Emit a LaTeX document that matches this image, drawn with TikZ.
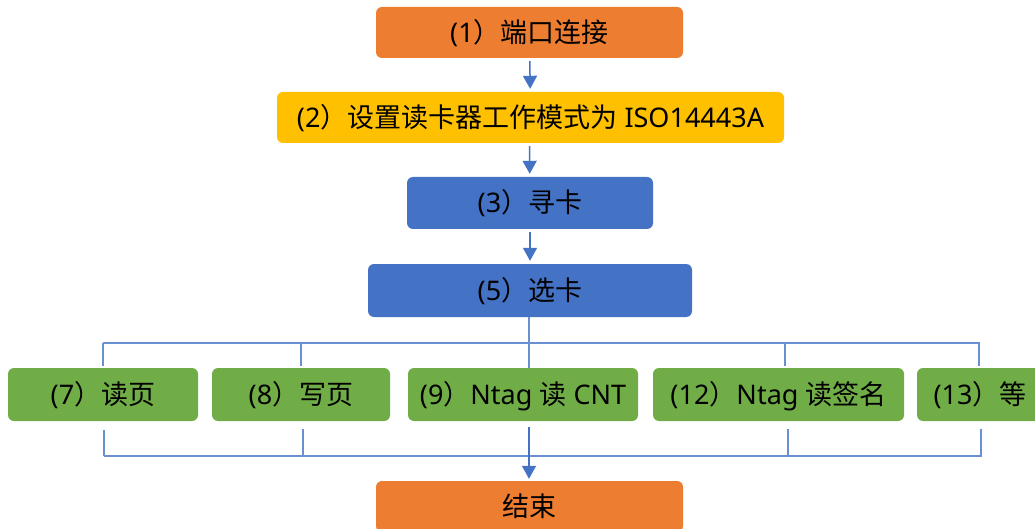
\documentclass[tikz,border=0pt]{standalone}
\usepackage{fontspec}
\setmainfont{Noto Sans}
\newfontfamily\cjk{Noto Sans CJK SC}
\usetikzlibrary{arrows.meta,calc}
\definecolor{cOrange}{HTML}{ED7D31}
\definecolor{cYellow}{HTML}{FFC000}
\definecolor{cBlue}{HTML}{4472C4}
\definecolor{cGreen}{HTML}{70AD47}
\definecolor{cLine}{HTML}{4472C4}
\definecolor{cBus}{HTML}{6A90D4}
\begin{document}
\begin{tikzpicture}[x=1pt,y=-1pt,
  box/.style={rounded corners=6pt, inner sep=0pt, minimum height=51pt,
    text height=22pt, text depth=2pt, font=\fontsize{27}{32}\selectfont, text=black},
  flow/.style={draw=cLine, line width=1.5pt, -{Triangle[width=14pt,length=13pt]}, shorten <=3pt, shorten >=3pt},
  bus/.style={draw=cBus, line width=1.2pt}]
\useasboundingbox (0,0) rectangle (1035,529);
\clip (0,0) rectangle (1035,529);
\fill[white] (0,0) rectangle (1035,529);

\node[box, fill=cOrange, minimum width=307pt] (n1) at (529.5,32.5) {(1{\cjk ）端口连接}};
\node[box, fill=cYellow, minimum width=507pt] (n2) at (530.5,117.5) {(2{\cjk ）设置读卡器工作模式为} ISO14443A};
\node[box, fill=cBlue, minimum width=246pt, minimum height=52pt] (n3) at (530,203) {(3{\cjk ）寻卡}};
\node[box, fill=cBlue, minimum width=324pt, minimum height=53pt] (n5) at (530,290.5) {(5{\cjk ）选卡}};

\node[box, fill=cGreen, minimum width=190pt, minimum height=53pt] (n7) at (103,394.5) {(7{\cjk ）读页}};
\node[box, fill=cGreen, minimum width=178pt, minimum height=53pt] (n8) at (301,394.5) {(8{\cjk ）写页}};
\node[box, fill=cGreen, minimum width=230pt, minimum height=53pt] (n9) at (523,394.5) {(9{\cjk ）}Ntag {\cjk 读} CNT};
\node[box, fill=cGreen, minimum width=251pt, minimum height=53pt] (n12) at (778.5,394.5) {(12{\cjk ）}Ntag {\cjk 读签名}};
\node[box, fill=cGreen, minimum width=126pt, minimum height=53pt] (n13) at (980,394.5) {(13{\cjk ）等}};

\node[box, fill=cOrange, minimum width=307pt] (nend) at (529.5,506.5) {{\cjk 结束}};

% main flow
\draw[flow] (n1) -- (n2);
\draw[flow] (n2.south -| n1.south) -- (n3);
\draw[flow] (n3) -- (n5);

% top bus
\coordinate (tl) at (103,343);
\coordinate (tr) at (980,343);
\coordinate (t7) at (103,366);
\coordinate (t8) at (301,366);
\coordinate (t12) at (785,366);
\coordinate (t13) at (979,366);
\draw[bus] (tl) -- (tr);
\draw[bus] (n5.south -| 529,0) -- (n9.north -| 529,0);
\draw[bus] (t7 |- tl) -- (t7);
\draw[bus] (t8 |- tl) -- (t8);
\draw[bus] (t12 |- tl) -- (t12);
\draw[bus] (t13 |- tl) -- (t13);

% bottom bus
\coordinate (bl) at (104,456);
\coordinate (br) at (982,456);
\coordinate (b7) at (104,430);
\coordinate (b8) at (303,429);
\coordinate (b9) at (529,427);
\coordinate (b12) at (788,429);
\coordinate (b13) at (981,429);
\draw[bus] (bl) -- (br);
\draw[bus] (b7) -- (b7 |- bl);
\draw[bus] (b8) -- (b8 |- bl);
\draw[bus] (b12) -- (b12 |- bl);
\draw[bus] (b13) -- (b13 |- bl);
\draw[flow, shorten <=0pt, shorten >=2pt] (b9) -- (b9 |- nend.north);
\end{tikzpicture}
\end{document}
